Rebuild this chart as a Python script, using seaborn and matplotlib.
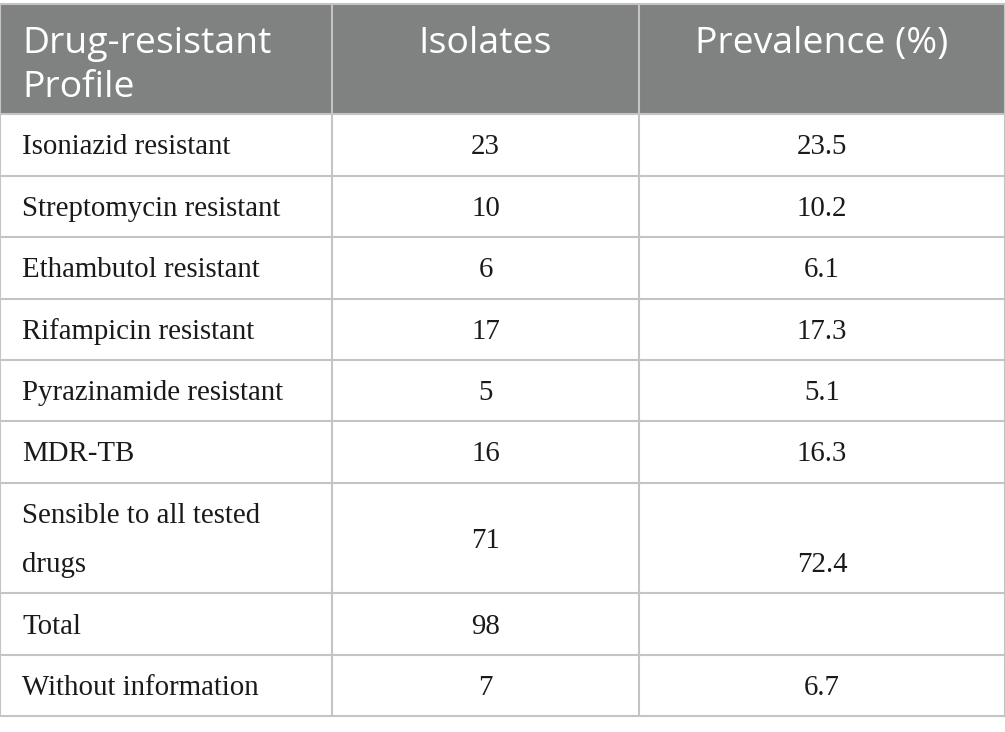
import matplotlib
matplotlib.use("Agg")
import matplotlib.pyplot as plt
from matplotlib.patches import Rectangle
import seaborn as sns

# table content
header = ["Drug-resistant\nProfile", "Isolates", "Prevalence (%)"]
profiles = ["Isoniazid resistant", "Streptomycin resistant", "Ethambutol resistant",
            "Rifampicin resistant", "Pyrazinamide resistant", "MDR-TB",
            "Sensible to all tested\ndrugs", "Total", "Without information"]
isolates = ["23", "10", "6", "17", "5", "16", "71", "98", "7"]
# 72.4 sits on the second text line of its row in the original
prevalence = ["23.5", "10.2", "6.1", "17.3", "5.1", "16.3", "\n72.4", "", "6.7"]

W, H = 1005, 732
col_edges = [0, 332, 639, 1005]
top = 3.5
line_h = 49.4
pad = 12

header_bg = "#808281"
grid_col = "#c4c4c4"
text_col = "#1a1a1a"

sns.set_theme(style="white")
fig = plt.figure(figsize=(W / 100, H / 100), dpi=100)
ax = fig.add_axes([0, 0, 1, 1])
ax.set_xlim(0, W)
ax.set_ylim(H, 0)
ax.axis("off")


def n_lines(*cells):
    return max(c.count("\n") + 1 for c in cells)


# row boundaries from number of text lines
rows = [header] + [list(r) for r in zip(profiles, isolates, prevalence)]
edges = [top]
for r in rows:
    edges.append(edges[-1] + pad + line_h * n_lines(*r))

# header background
ax.add_patch(Rectangle((0, edges[0]), W, edges[1] - edges[0], color=header_bg, lw=0, zorder=0))

# grid lines
for y in edges:
    ax.plot([0, W], [y, y], color=grid_col, lw=1.5, zorder=2, solid_capstyle="butt")
for x in col_edges:
    ax.plot([x, x], [edges[0], edges[-1]], color=grid_col, lw=1.5, zorder=2, solid_capstyle="butt")

# header text, top aligned
for j, label in enumerate(header):
    for k, line in enumerate(label.split("\n")):
        yb = edges[0] + 49.5 + k * 44
        if j == 0:
            x, ha = col_edges[0] + 22, "left"
        else:
            x, ha = (col_edges[j] + col_edges[j + 1]) / 2, "center"
        ax.text(x, yb, line, ha=ha, va="baseline", color="white",
                fontsize=26.9, family="Open Sans", fontweight="normal", zorder=3)

# body text, vertically centred
for i, r in enumerate(rows[1:], start=1):
    n = n_lines(*r)
    yc = (edges[i] + edges[i + 1]) / 2
    for j, cell in enumerate(r):
        parts = cell.split("\n")
        m = len(parts)
        for k, line in enumerate(parts):
            if not line:
                continue
            # cells with fewer lines are centred; lines of multi-line cells spread around centre
            yb = yc + 9.5 + (k - (m - 1) / 2) * 49
            if j == 0:
                x, ha = col_edges[0] + 22, "left"
            else:
                x, ha = (col_edges[j] + col_edges[j + 1]) / 2, "center"
            ax.text(x, yb, line, ha=ha, va="baseline", color=text_col,
                    fontsize=20.8, family="Liberation Serif", zorder=3)

fig.savefig("out.png", dpi=100)
